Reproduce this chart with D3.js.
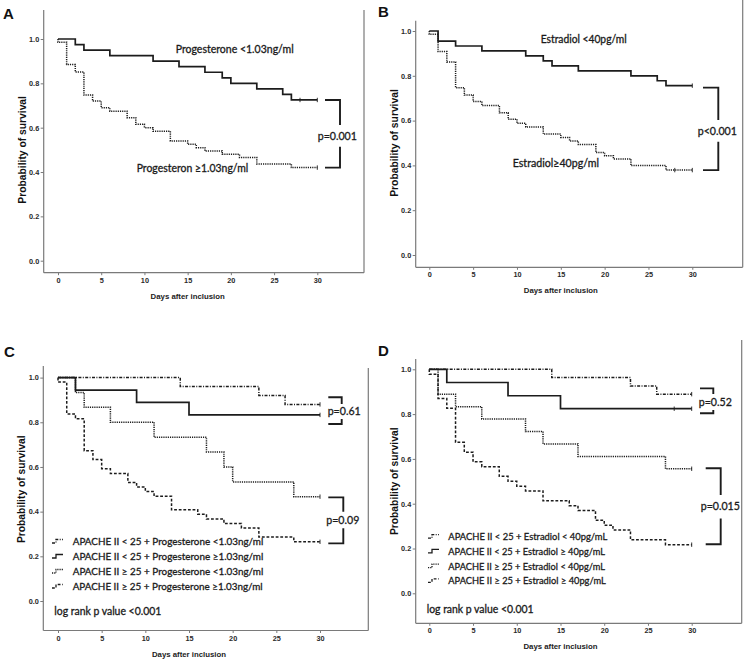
<!DOCTYPE html>
<html><head><meta charset="utf-8">
<script src="https://cdn.jsdelivr.net/npm/d3@7"></script>
<style>body{margin:0;background:#fff} svg{display:block}</style>
</head><body>
<svg id="c" width="750" height="663"></svg>
<script>
// ---------------- data ----------------
const xTicks = [0, 5, 10, 15, 20, 25, 30];
const yTicks = [0, 0.2, 0.4, 0.6, 0.8, 1.0];
const panelLetters = ["A", "B", "C", "D"];
const xTitle = "Days after inclusion";
const yTitle = "Probability of survival";

// Panel A
const aLowDays  = [2, 3, 6, 11, 14, 17, 19, 20, 23, 26, 27];
const aLowSurv  = [0.975, 0.95, 0.925, 0.90, 0.875, 0.85, 0.825, 0.80, 0.775, 0.75, 0.725];
const aLowCens  = [28, 30];
const aHighDays = [0, 1, 2, 3, 4, 5, 6, 8, 9, 10, 11, 13, 15, 16, 17, 19, 21, 23, 27];
const aHighSurv = [0.985, 0.885, 0.851, 0.747, 0.72, 0.69, 0.674, 0.645, 0.615, 0.60, 0.584, 0.54, 0.525, 0.51, 0.495, 0.48, 0.466, 0.436, 0.42];
const aHighCens = [30];
const aLabels   = ["Progesterone <1.03ng/ml", "Progesteron \u22651.03ng/ml"];
const aP        = "p=0.001";

// Panel B
const bLowDays  = [1, 3, 6, 11, 13, 14, 17, 23, 26, 27];
const bLowSurv  = [0.955, 0.933, 0.911, 0.889, 0.867, 0.844, 0.822, 0.80, 0.778, 0.756];
const bLowCens  = [30];
const bHighDays = [0, 1, 2, 3, 4, 5, 6, 8, 9, 10, 11, 13, 15, 16, 17, 19, 20, 21, 23, 27];
const bHighSurv = [0.985, 0.908, 0.862, 0.747, 0.714, 0.685, 0.667, 0.635, 0.606, 0.588, 0.571, 0.54, 0.525, 0.509, 0.493, 0.458, 0.443, 0.429, 0.399, 0.379];
const bHighCens = [28, 30];
const bLabels   = ["Estradiol <40pg/ml", "Estradiol\u226540pg/ml"];
const bP        = "p<0.001";

// Panel C
const c1Days = [14, 23, 26];
const c1Surv = [0.96, 0.92, 0.88];
const c2Days = [2, 9, 15];
const c2Surv = [0.944, 0.889, 0.833];
const c3Days = [2, 3, 6, 11, 17, 19, 20, 27];
const c3Surv = [0.933, 0.867, 0.80, 0.733, 0.667, 0.60, 0.533, 0.467];
const c4Days = [0, 1, 2, 3, 4, 5, 6, 8, 9, 10, 11, 13, 16, 17, 19, 21, 23, 27];
const c4Surv = [0.98, 0.837, 0.816, 0.673, 0.633, 0.592, 0.571, 0.531, 0.51, 0.49, 0.469, 0.408, 0.388, 0.367, 0.347, 0.327, 0.286, 0.265];
const cCens  = [[30], [30], [30], [30]];
const cLegend = [
  "APACHE II <  25 + Progesterone <1.03ng/ml",
  "APACHE II <  25 + Progesterone \u22651.03ng/ml",
  "APACHE II \u2265 25 + Progesterone <1.03ng/ml",
  "APACHE II \u2265 25 + Progesterone \u22651.03ng/ml"
];
const cP = ["p=0.61", "p=0.09"];

// Panel D
const d1Days = [14, 23, 26];
const d1Surv = [0.963, 0.926, 0.889];
const d2Days = [2, 9, 15];
const d2Surv = [0.941, 0.882, 0.824];
const d3Days = [1, 3, 6, 11, 13, 17, 27];
const d3Surv = [0.889, 0.833, 0.778, 0.722, 0.667, 0.611, 0.556];
const d4Days = [0, 1, 2, 3, 4, 5, 6, 8, 9, 10, 11, 13, 16, 17, 19, 20, 21, 23, 27];
const d4Surv = [0.978, 0.87, 0.826, 0.674, 0.63, 0.587, 0.565, 0.522, 0.50, 0.478, 0.457, 0.413, 0.391, 0.37, 0.326, 0.304, 0.283, 0.239, 0.217];
const dCens  = [[30], [28, 30], [30], [30]];
const dLegend = [
  "APACHE II <  25 + Estradiol < 40pg/mL",
  "APACHE II <  25 + Estradiol \u2265 40pg/mL",
  "APACHE II \u2265 25 + Estradiol < 40pg/mL",
  "APACHE II \u2265 25 + Estradiol \u2265 40pg/mL"
];
const dP = ["p=0.52", "p=0.015"];
const logRank = "log rank p value <0.001";

// brackets (survival values of top/bottom arms)
const aBracket = [[0.725, 0.42]];
const bBracket = [[0.747, 0.379]];
const cBracket = [[0.912, 0.792], [0.464, 0.258]];
const dBracket = [[0.915, 0.804], [0.558, 0.219]];

// ---------------- styles / layout ----------------
const INK = "#1c1c1c";
const FRAME = "#7a7a7a";
const ANN_FONT = "Lato, 'Open Sans', sans-serif";
const AX_FONT = "'Liberation Sans', Arial, sans-serif";
const dashSolid = null, dashDot = "1.2,1", dashDash = "2.8,1.8", dashDashDot = "3,1.4,1,1.4";

const svg = d3.select("#c");

function annText(sel, size) {
  return sel.attr("font-family", ANN_FONT).attr("font-size", size).attr("fill", "#1a1a1a")
    .attr("stroke", "#1a1a1a").attr("stroke-width", 0.3);
}

function panel(cfg) {
  const g = svg.append("g");
  const x = d3.scaleLinear().domain([0, 30]).range([cfg.x0, cfg.x30]);
  const y = d3.scaleLinear().domain([0, 1]).range([cfg.y0, cfg.y1]);

  // frame
  g.append("line").attr("x1", cfg.left).attr("x2", cfg.left).attr("y1", cfg.top).attr("y2", cfg.bottom)
    .attr("stroke", FRAME).attr("stroke-width", 1.2);
  g.append("line").attr("x1", cfg.left).attr("x2", cfg.right).attr("y1", cfg.bottom).attr("y2", cfg.bottom)
    .attr("stroke", FRAME).attr("stroke-width", 1.2);
  g.append("line").attr("x1", cfg.right).attr("x2", cfg.right).attr("y1", cfg.rtop).attr("y2", cfg.bottom)
    .attr("stroke", FRAME).attr("stroke-width", 1.2);

  // axes
  const ya = g.append("g").attr("transform", `translate(${cfg.left},0)`)
    .call(d3.axisLeft(y).tickValues(yTicks).tickFormat(d3.format(".1f")).tickSize(3).tickPadding(1.5));
  const xa = g.append("g").attr("transform", `translate(0,${cfg.bottom})`)
    .call(d3.axisBottom(x).tickValues(xTicks).tickSize(2.5).tickPadding(2.5));
  [ya, xa].forEach(a => {
    a.select(".domain").remove();
    a.selectAll("line").attr("stroke", FRAME);
    a.selectAll("text").attr("font-family", AX_FONT).attr("font-weight", "bold")
      .attr("font-size", 7.3).attr("fill", "#2a2a2a");
  });

  // axis titles
  g.append("text").attr("x", (cfg.x0 + cfg.x30) / 2).attr("y", cfg.bottom + 26)
    .attr("text-anchor", "middle").attr("font-family", AX_FONT).attr("font-weight", "bold")
    .attr("font-size", 7.8).attr("fill", "#222").text(xTitle);
  g.append("text").attr("transform", `translate(${cfg.left - 18},${(cfg.y0 + cfg.y1) / 2}) rotate(-90)`)
    .attr("text-anchor", "middle").attr("font-family", AX_FONT).attr("font-weight", "bold")
    .attr("font-size", 10.3).attr("fill", "#111").text(yTitle);

  // panel letter
  g.append("text").attr("x", cfg.lx).attr("y", cfg.ly).attr("font-family", AX_FONT)
    .attr("font-weight", "bold").attr("font-size", 15).attr("fill", "#111").text(cfg.letter);

  // curves
  const line = d3.line().x(d => x(d[0])).y(d => y(d[1])).curve(d3.curveStepAfter);
  cfg.series.forEach(s => {
    const pts = [[0, 1]];
    s.days.forEach((d, i) => pts.push([d, s.surv[i]]));
    pts.push([30, s.surv[s.surv.length - 1]]);
    g.append("path").attr("d", line(pts)).attr("fill", "none").attr("stroke", INK)
      .attr("stroke-width", s.dash ? 1.5 : 1.7).attr("stroke-dasharray", s.dash);
    s.cens.forEach(t => {
      let v = 1;
      s.days.forEach((d, i) => { if (d <= t) v = s.surv[i]; });
      g.append("line").attr("x1", x(t)).attr("x2", x(t)).attr("y1", y(v) - 2.2).attr("y2", y(v) + 2.2)
        .attr("stroke", INK).attr("stroke-width", 0.9);
    });
  });

  // brackets
  cfg.brackets.forEach((b, i) => {
    const L = cfg.bk[i];
    const xa0 = cfg.x30 + L.a, xa1 = cfg.x30 + L.b;
    const yt = y(b[0]), yb = y(b[1]);
    g.append("path")
      .attr("d", `M${xa0},${yt}H${xa1}V${L.mid - L.gap}M${xa1},${L.mid + L.gap}V${yb}H${xa0}`)
      .attr("fill", "none").attr("stroke", INK).attr("stroke-width", 1.9);
    annText(g.append("text"), 10.6).attr("x", cfg.x30 + L.tx).attr("y", L.mid).attr("dy", "0.35em")
      .attr("text-anchor", "middle").text(cfg.pText[i]);
  });

  // labels
  (cfg.labels || []).forEach(l => {
    annText(g.append("text"), 10.6).attr("x", l.x).attr("y", l.y).attr("dy", "0.35em")
      .attr("textLength", l.w).attr("lengthAdjust", "spacingAndGlyphs").text(l.t);
  });

  // legend
  if (cfg.legend) {
    const Lg = cfg.legend;
    Lg.items.forEach((t, i) => {
      const yy = Lg.y0 + i * Lg.dy;
      g.append("path").attr("d", `M${Lg.sx},${yy + 1.5}h4v-3.5h7`)
        .attr("fill", "none").attr("stroke", INK).attr("stroke-width", 1.3)
        .attr("stroke-dasharray", Lg.dashes[i]);
      annText(g.append("text"), 10).attr("x", Lg.tx).attr("y", yy).attr("dy", "0.35em")
        .attr("textLength", Lg.w[i]).attr("lengthAdjust", "spacingAndGlyphs").text(t);
    });
    annText(g.append("text"), 10.6).attr("x", Lg.lrx).attr("y", Lg.lry).attr("dy", "0.35em")
      .attr("textLength", 107).attr("lengthAdjust", "spacingAndGlyphs").text(logRank);
  }
}

const legendDashes = [dashDashDot, dashSolid, dashDot, dashDash];

panel({
  letter: panelLetters[0], lx: 3, ly: 19,
  x0: 58, x30: 317.3, y1: 39, y0: 260.7, left: 43.7, right: 364, bottom: 272.7, top: 10, rtop: 10,
  series: [
    { days: aLowDays, surv: aLowSurv, cens: aLowCens, dash: dashSolid },
    { days: aHighDays, surv: aHighSurv, cens: aHighCens, dash: dashDot }
  ],
  brackets: aBracket, pText: [aP],
  bk: [{ a: 7.7, b: 22.7, mid: 135.9, gap: 10.8, tx: 20 }],
  labels: [
    { t: aLabels[0], x: 175.7, y: 49.3, w: 118 },
    { t: aLabels[1], x: 136.7, y: 168.3, w: 111.6 }
  ]
});

panel({
  letter: panelLetters[1], lx: 378, ly: 17,
  x0: 429.3, x30: 692.3, y1: 31, y0: 255, left: 415.7, right: 742.7, bottom: 267.3, top: 20.7, rtop: 0,
  series: [
    { days: bLowDays, surv: bLowSurv, cens: bLowCens, dash: dashSolid },
    { days: bHighDays, surv: bHighSurv, cens: bHighCens, dash: dashDot }
  ],
  brackets: bBracket, pText: [bP],
  bk: [{ a: 10.7, b: 26, mid: 130.9, gap: 10.8, tx: 25 }],
  labels: [
    { t: bLabels[0], x: 540.7, y: 39, w: 86 },
    { t: bLabels[1], x: 512.7, y: 163, w: 86.3 }
  ]
});

panel({
  letter: panelLetters[2], lx: 4, ly: 357,
  x0: 58, x30: 320, y1: 377.6, y0: 601, left: 43.3, right: 368.3, bottom: 630.5, top: 366, rtop: 368,
  series: [
    { days: c1Days, surv: c1Surv, cens: cCens[0], dash: dashDashDot },
    { days: c2Days, surv: c2Surv, cens: cCens[1], dash: dashSolid },
    { days: c3Days, surv: c3Surv, cens: cCens[2], dash: dashDot },
    { days: c4Days, surv: c4Surv, cens: cCens[3], dash: dashDash }
  ],
  brackets: cBracket, pText: cP,
  bk: [{ a: 8.3, b: 21.7, mid: 411.5, gap: 7.5, tx: 24.2 },
       { a: 8.3, b: 23.3, mid: 520, gap: 8.3, tx: 22.8 }],
  legend: { items: cLegend, dashes: legendDashes, sx: 52, tx: 72.7, y0: 541.5, dy: 15,
            w: [190.6, 190.6, 190.6, 190], lrx: 54.3, lry: 611.5 }
});

panel({
  letter: panelLetters[3], lx: 378, ly: 356,
  x0: 429.3, x30: 691.7, y1: 369.3, y0: 593.3, left: 415.7, right: 741.7, bottom: 623.3, top: 359, rtop: 340,
  series: [
    { days: d1Days, surv: d1Surv, cens: dCens[0], dash: dashDashDot },
    { days: d2Days, surv: d2Surv, cens: dCens[1], dash: dashSolid },
    { days: d3Days, surv: d3Surv, cens: dCens[2], dash: dashDot },
    { days: d4Days, surv: d4Surv, cens: dCens[3], dash: dashDash }
  ],
  brackets: dBracket, pText: dP,
  bk: [{ a: 8.3, b: 21.6, mid: 402, gap: 8, tx: 23.6 },
       { a: 14, b: 29, mid: 506.7, gap: 11.7, tx: 28.6 }],
  legend: { items: dLegend, dashes: legendDashes, sx: 428, tx: 448.3, y0: 536.7, dy: 14.7,
            w: [159, 156.7, 156.7, 157.4], lrx: 426.7, lry: 609.3 }
});
</script>
</body></html>
